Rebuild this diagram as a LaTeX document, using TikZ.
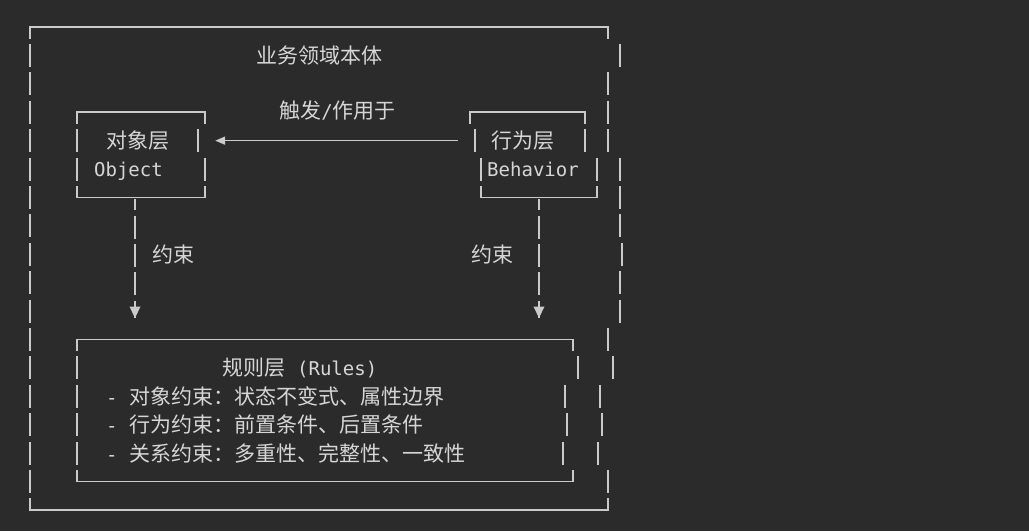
\documentclass[tikz,border=0pt]{standalone}
\usepackage{fontspec}
\usepackage{xcolor}
\usepackage{tikz}
\usetikzlibrary{arrows.meta,positioning}

\newfontfamily\cjk{Noto Sans CJK SC}
\newfontfamily\mono{DejaVu Sans Mono}
\definecolor{bgdark}{HTML}{2B2B2B}
\definecolor{inkline}{HTML}{CACACA}
\definecolor{inktext}{HTML}{D6D6D6}

% one terminal row is 28.41px high, row 0 sits at y=27
\newcommand\rowy[1]{27+28.41*#1}
\newcommand\asc[1]{{\mono\fontsize{19}{24}\selectfont #1}}
\newcommand\vbar[2]{\draw[frame] (#1,{\rowy{#2}-11.5}) -- ++(0,23);}

\begin{document}
\begin{tikzpicture}[x=1pt, y=-1pt,
      frame/.style={draw=inkline, line width=1.7pt},
      box/.style={rectangle, draw=none, inner sep=0pt},
      txt/.style={inner sep=0pt, text=inktext, font=\cjk\fontsize{21}{24}\selectfont},
      code/.style={txt, anchor=base, font=\mono\fontsize{19}{24}\selectfont},
      flow/.style={frame, -{Triangle[length=10pt, width=8pt]}},
      cons/.style={frame, dash pattern=on 23pt off 5.41pt, dash phase=11.5pt},
      tip/.style={fill=inkline, draw=none}
    ]
    \fill[bgdark] (0,0) rectangle (1029,531);
    \useasboundingbox (0,0) rectangle (1029,531);

    % outer frame: business domain ontology
    \draw[frame] (30,{\rowy{0}+11.5}) |- (608,{\rowy{0}}) -- ++(0,11.5);
    \draw[frame] (30,{\rowy{17}-11.5}) |- (608,{\rowy{17}}) -- ++(0,-11.5);
    \foreach \k in {1,...,16} {\vbar{30}{\k}}
    \foreach \k/\xr in {1/620, 2/608, 3/608, 4/608, 5/620, 6/620, 7/620, 8/622,
                        9/620, 10/620, 11/608, 12/613, 13/600, 14/602, 15/598, 16/608} {
        \vbar{\xr}{\k}
    }
    \node[txt] (title) at (319,{\rowy{1}}) {业务领域本体};

    % object layer
    \node[box, minimum width=128pt, minimum height=86.2pt] (obj) at (141,155.4) {};
    \draw[frame] (77,{\rowy{3}+11.5}) |- (205,{\rowy{3}}) -- ++(0,11.5);
    \draw[frame] (77,{\rowy{6}-11.5}) |- (205,{\rowy{6}}) -- ++(0,-11.5);
    \vbar{77}{4} \vbar{77}{5} \vbar{198}{4} \vbar{205}{5}
    \node[txt] (objcn) at (138,{\rowy{4}}) {对象层};
    \node[code] (objen) at (128.5,{\rowy{5}+7}) {Object};

    % behavior layer
    \node[box, minimum width=127pt, minimum height=86.2pt] (beh) at (533.5,155.4) {};
    \draw[frame] (470,{\rowy{3}+11.5}) |- (585,{\rowy{3}}) -- ++(0,11.5);
    \draw[frame] (481,{\rowy{6}-11.5}) |- (597,{\rowy{6}}) -- ++(0,-11.5);
    \vbar{475}{4} \vbar{585}{4} \vbar{481}{5} \vbar{597}{5}
    \node[txt] (behcn) at (523,{\rowy{4}}) {行为层};
    \node[code] (behen) at (533,{\rowy{5}+7}) {Behavior};

    % trigger arrow
    \draw[flow] ([xshift=-12pt]beh.west |- behcn) -- ([xshift=10pt]obj.east |- objcn);
    \node[txt] (trig) at (337.5,{\rowy{3}-1.5}) {触发\asc{/}作用于};

    % rules layer
    \node[box, minimum width=496pt, minimum height=142pt] (rules) at (325,410.6) {};
    \draw[frame] (77,{\rowy{11}+11.5}) |- (573,{\rowy{11}}) -- ++(0,11.5);
    \draw[frame] (77,{\rowy{16}-11.5}) |- (573,{\rowy{16}}) -- ++(0,-11.5);
    \foreach \k/\xr in {12/578, 13/565, 14/567, 15/563} {
        \vbar{77}{\k}
        \vbar{\xr}{\k}
    }
    \node[txt] (rtitle) at (300,{\rowy{12}}) {规则层\asc{ (Rules)}};
    \node[txt, anchor=west] (rule1) at (106,{\rowy{13}}) {\asc{- }对象约束：状态不变式、属性边界};
    \node[txt, anchor=west] (rule2) at (106,{\rowy{14}}) {\asc{- }行为约束：前置条件、后置条件};
    \node[txt, anchor=west] (rule3) at (106,{\rowy{15}}) {\asc{- }关系约束：多重性、完整性、一致性};

    % constraint connectors
    \coordinate (objdn) at (135,306.5);
    \coordinate (behdn) at (539,306.5);
    \draw[cons] (objdn |- obj.south) -- ([yshift=-11pt]objdn);
    \draw[cons] (behdn |- beh.south) -- ([yshift=-11pt]behdn);
    \fill[tip] (objdn) ++(-5.5,0) -- ++(11,0) -- ++(-5.5,11.5) -- cycle;
    \fill[tip] (behdn) ++(-5.5,0) -- ++(11,0) -- ++(-5.5,11.5) -- cycle;
    \node[txt] (consL) at (173,{\rowy{8}}) {约束};
    \node[txt] (consR) at (492,{\rowy{8}}) {约束};
  \end{tikzpicture}
\end{document}
